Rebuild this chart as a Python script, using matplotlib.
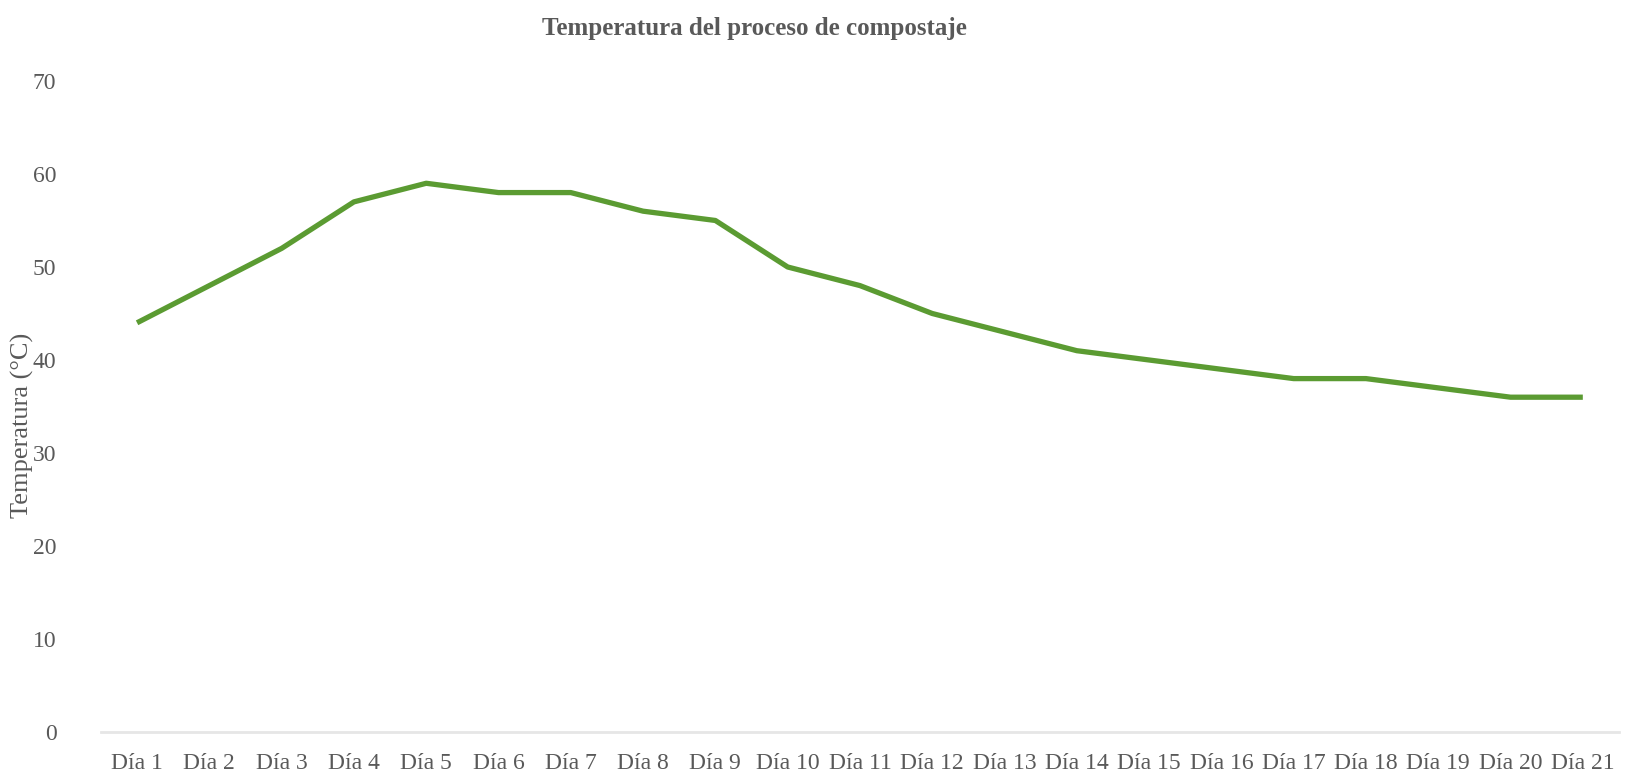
import matplotlib
matplotlib.use("Agg")
from matplotlib import pyplot as plt

days = ["Día %d" % i for i in range(1, 22)]
temps = [44, 48, 52, 57, 59, 58, 58, 56, 55, 50, 48, 45, 43, 41, 40, 39, 38, 38, 37, 36, 36]
yticks = [0, 10, 20, 30, 40, 50, 60, 70]

plt.rcParams['font.family'] = ['Liberation Serif', 'DejaVu Serif']

fig = plt.figure(figsize=(16.33, 7.8), dpi=100)
ax = fig.add_axes([0.0618, 0.0615, 0.9296, 0.8347])

ax.plot(range(len(days)), temps, color='#5b9b32', linewidth=3.8, solid_capstyle='butt')

ax.set_xlim(-0.5, len(days) - 0.5)
ax.set_ylim(0, 70)
ax.set_xticks(range(len(days)))
ax.set_xticklabels(days, fontsize=17, color='#595959')
ax.set_yticks(yticks)
ax.set_yticklabels([str(v) for v in yticks], fontsize=17, color='#595959')
ax.tick_params(length=0)
ax.tick_params(axis='x', pad=15)
ax.tick_params(axis='y', pad=32)

for s in ['top', 'right', 'left']:
    ax.spines[s].set_visible(False)
ax.spines['bottom'].set_color('#e6e6e6')
ax.spines['bottom'].set_linewidth(2)

fig.text(0.462, 0.963, "Temperatura del proceso de compostaje", ha='center', va='center',
         fontsize=18, fontweight='bold', color='#595959')
fig.text(0.0135, 0.455, "Temperatura (°C)", rotation=90, ha='center', va='center',
         fontsize=19, color='#595959')

fig.savefig("out.png", dpi=100)
